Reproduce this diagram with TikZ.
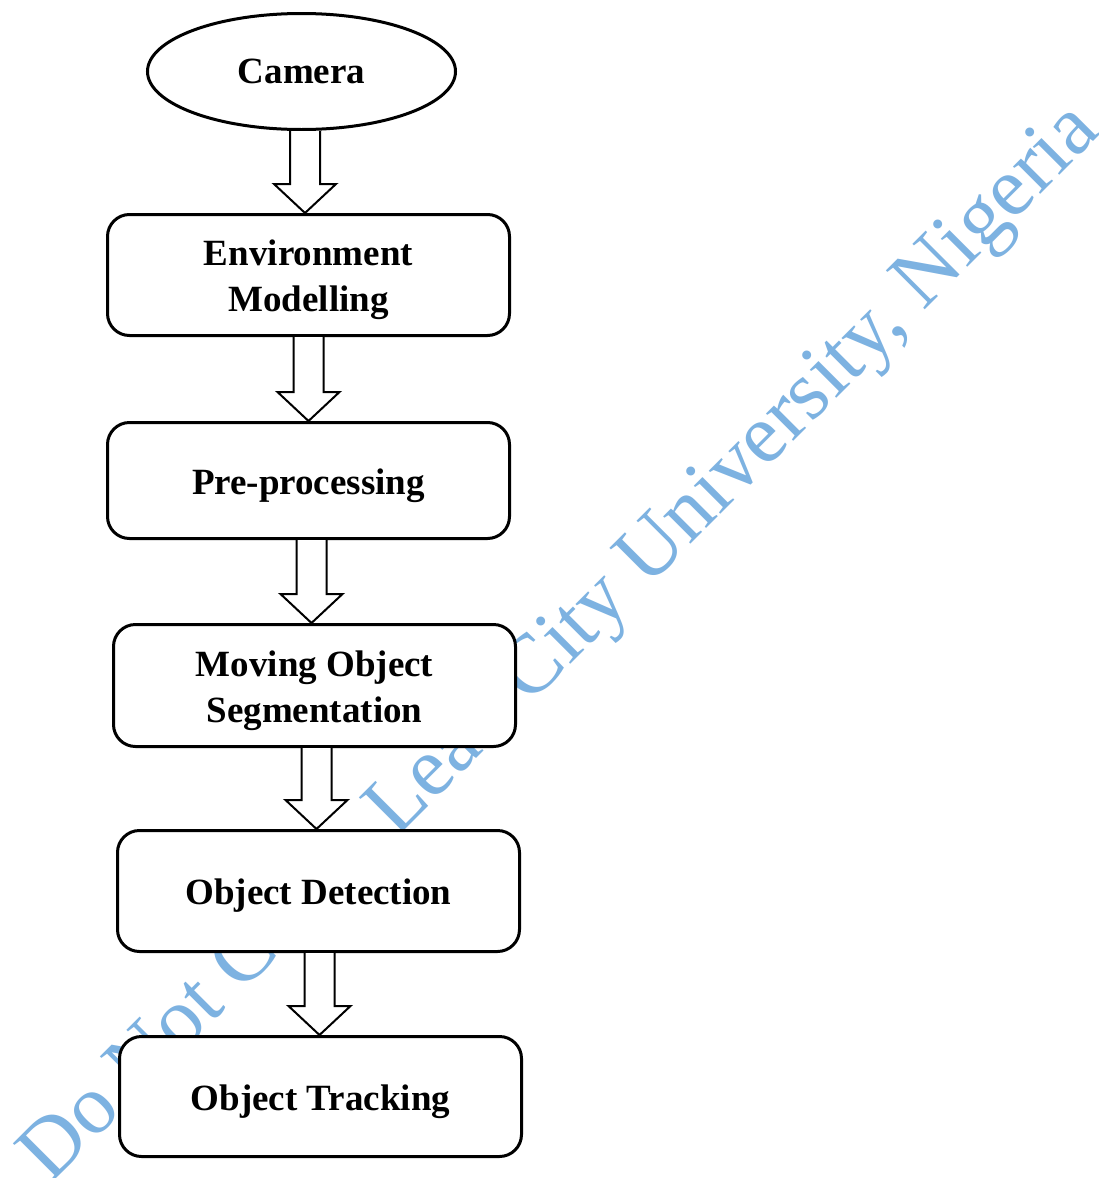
\documentclass[tikz,border=0pt]{standalone}
\usepackage{fontspec}
\setmainfont{Liberation Serif}
\usetikzlibrary{shapes.geometric,calc}
\definecolor{markblue}{RGB}{125,178,225}
% stage label: centred lines, set a little below the middle of the box
\newcommand\stagetext[1]{\raisebox{-4.5pt}[\height][\depth]{%
  \begin{tabular}{@{}c@{}}#1\end{tabular}}}
\tikzset{
  stage/.style={draw, line width=3pt, fill=white, rounded corners=22pt,
    minimum width=402pt, inner sep=0pt,
    font=\fontsize{37}{46}\selectfont\bfseries},
  source/.style={draw, ellipse, line width=3pt, fill=white,
    minimum width=308pt, minimum height=116pt, inner sep=0pt,
    font=\fontsize{37}{46}\selectfont\bfseries},
  blockarrow/.style={draw, line width=2pt, fill=white, line join=miter},
  watermark/.style={text=markblue, font=\fontsize{84}{90}\selectfont,
    rotate=45, anchor=base, inner sep=0pt}
}
% hollow block arrow from the bottom of #1 to the top of #2
\newcommand\hollowarrow[2]{%
  \path[blockarrow] let \p1=(#1.south), \p2=(#2.north),
      \p3=($(#1.south)!0.5!(#2.north)$) in
    (\x3-15pt,\y1) -- (\x3-15pt,\y2+29pt) -- (\x3-31pt,\y2+29pt) --
    (\x3,\y2) -- (\x3+31pt,\y2+29pt) -- (\x3+15pt,\y2+29pt) --
    (\x3+15pt,\y1);}
\begin{document}
\begin{tikzpicture}[x=1pt,y=-1pt]
\useasboundingbox[fill=white] (0,0) rectangle (1099,1178);
% diagonal notice behind the chart
\node[watermark] (mark) at (576,659) {Do Not Copy, Lead City University, Nigeria};
% chart stages
\node[source] (cam) at (301.5,71.5) {Camera};
\node[stage, minimum height=121pt] (env) at (308.5,275) {\stagetext{Environment\\Modelling}};
\node[stage, minimum height=116pt] (pre) at (308.5,480.5) {\stagetext{Pre-processing}};
\node[stage, minimum height=122pt] (seg) at (314.5,685.5) {\stagetext{Moving Object\\Segmentation}};
\node[stage, minimum height=121pt] (det) at (318.5,891) {\stagetext{Object Detection}};
\node[stage, minimum height=120pt] (trk) at (320.5,1096.5) {\stagetext{Object Tracking}};
% flow between stages
\hollowarrow{cam}{env}
\hollowarrow{env}{pre}
\hollowarrow{pre}{seg}
\hollowarrow{seg}{det}
\hollowarrow{det}{trk}
\end{tikzpicture}
\end{document}
